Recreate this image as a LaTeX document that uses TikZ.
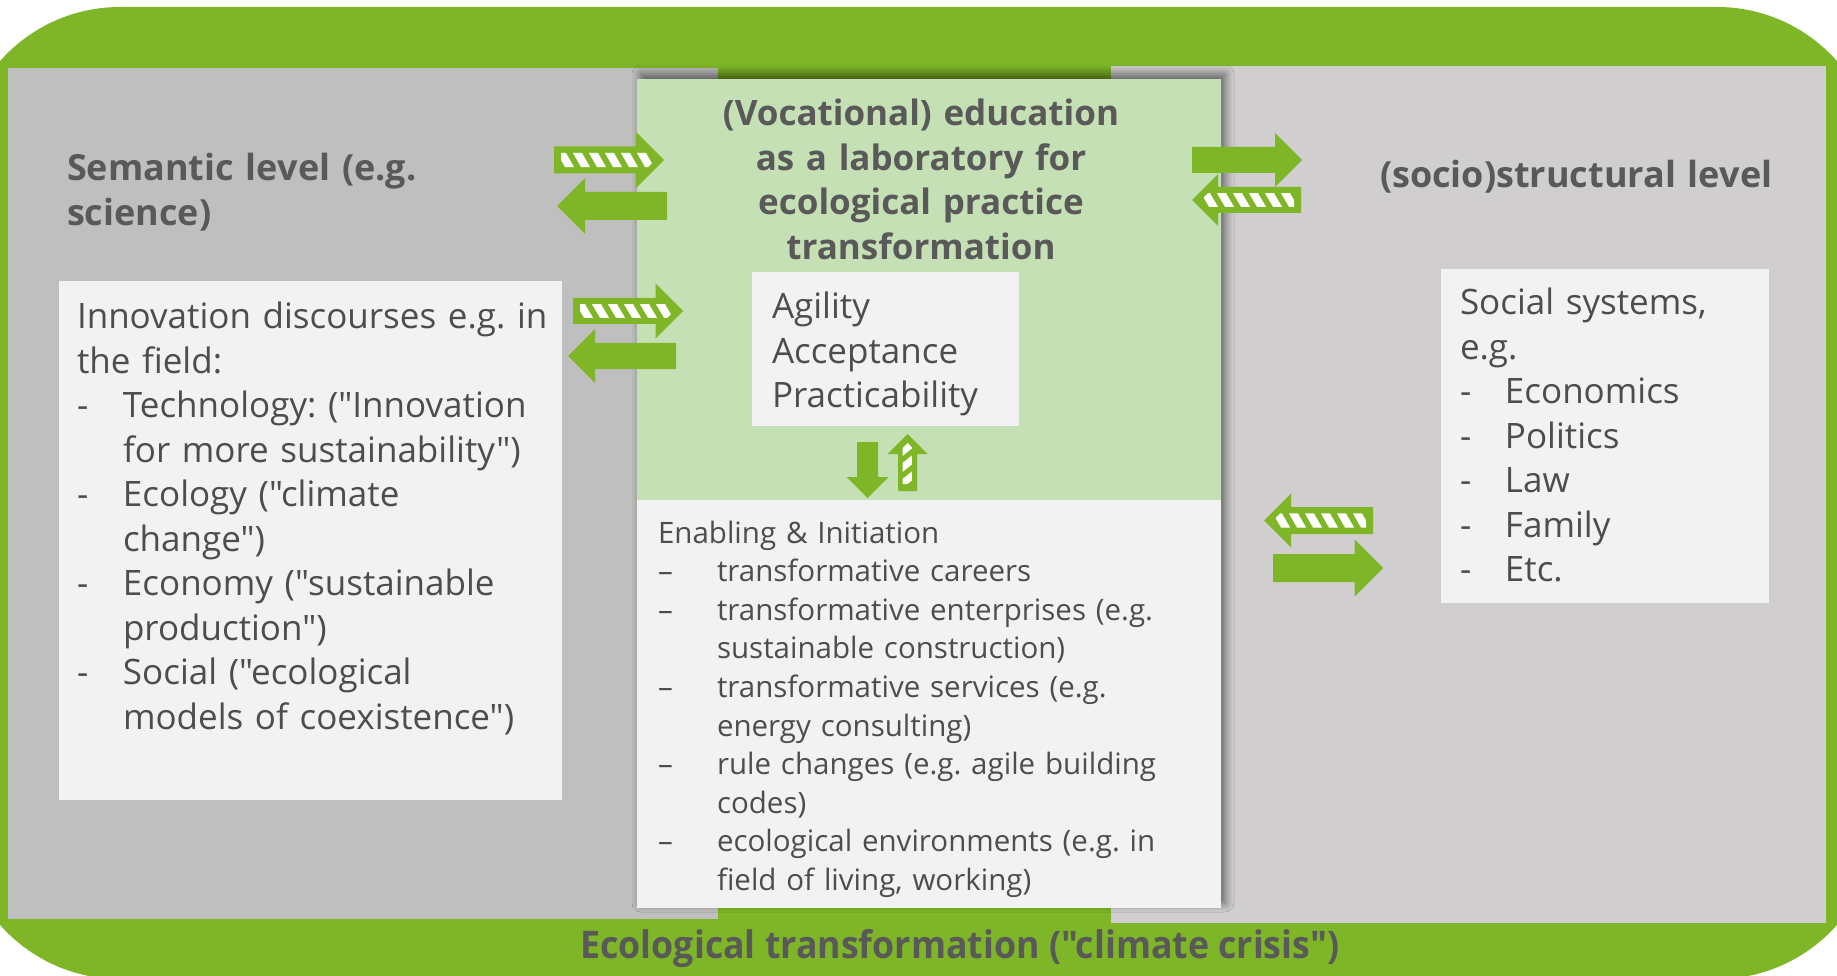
\documentclass[tikz,border=0pt]{standalone}
\usepackage{fontspec}
\usepackage{graphicx}
\defaultfontfeatures[\rmfamily]{}
\setmainfont{Open Sans}
\usetikzlibrary{shadows.blur}
\definecolor{ggreen}{HTML}{7EB627}
\definecolor{lgreen}{HTML}{C5E0B4}
\definecolor{lgray}{HTML}{BFBFBF}
\definecolor{rgray}{HTML}{D0CECE}
\definecolor{boxw}{HTML}{F2F2F2}
\definecolor{txt}{HTML}{4D4D4D}
\definecolor{ttl}{HTML}{595959}
\frenchspacing
\newcommand{\fbody}{\fontsize{35}{44.5}\selectfont}
\newcommand{\fsmall}{\fontsize{29.5}{38.6}\selectfont}
\newcommand{\ftitle}{\fontsize{35}{44.5}\selectfont\bfseries}
\newcommand{\fsidetitle}{\fontsize{36}{44.5}\selectfont\bfseries}
\newcommand{\solidarrow}[5]{%
\begin{scope}[shift={#1},rotate=#2]
\fill[ggreen] (0,-#3) -- ({#5-#4},-#3) -- ({#5-#4},-#4) -- (#5,0) -- ({#5-#4},#4) -- ({#5-#4},#3) -- (0,#3) -- cycle;
\end{scope}}
\newcommand{\stripedarrow}[5]{%
\begin{scope}[shift={#1},rotate=#2]
\fill[ggreen] (0,-#3) -- ({#5-#4},-#3) -- ({#5-#4},-#4) -- (#5,0) -- ({#5-#4},#4) -- ({#5-#4},#3) -- (0,#3) -- cycle;
\pgfmathsetmacro{\ww}{0.52*#3}
\begin{scope}
\clip (7,-\ww) -- ({#5-9-\ww},-\ww) -- ({#5-9},0) -- ({#5-9-\ww},\ww) -- (7,\ww) -- cycle;
\foreach \k in {0,...,9} \fill[white] ({3+16*\k},-\ww) -- ++(9,0) -- ++(8,{2*\ww}) -- ++(-9,0) -- cycle;
\end{scope}
\end{scope}}
\tikzset{
  panelbox/.style={fill=boxw, draw=none, inner sep=0pt, outer sep=0pt, anchor=north west},
  bodytxt/.style={anchor=base west, inner sep=0pt, outer sep=0pt, align=left, text=txt, font=\fbody},
  smalltxt/.style={anchor=base west, inner sep=0pt, outer sep=0pt, align=left, text=txt, font=\fsmall},
  titletxt/.style={inner sep=0pt, outer sep=0pt, text=ttl, font=\ftitle},
  sidetitle/.style={inner sep=0pt, outer sep=0pt, text=ttl, font=\fsidetitle, anchor=base west, align=left},
}
\begin{document}
\begin{tikzpicture}[x=1pt,y=-1pt]
\useasboundingbox (0,0) rectangle (1837,976);
\clip (0,0) rectangle (1837,976);
% outer green frame
\fill[ggreen] (-40,167) .. controls (-40,78.6) and (31.6,7) .. (120,7) -- (1717,7)
  .. controls (1805.4,7) and (1877,78.6) .. (1877,167) -- (1877,819)
  .. controls (1877,907.4) and (1805.4,979) .. (1717,979) -- (120,979)
  .. controls (31.6,979) and (-40,907.4) .. (-40,819) -- cycle;
% side panels
\fill[lgray] (8,68) rectangle (718,919);
\fill[rgray] (1111,66) rectangle (1826,923);
% central column
\path[fill=boxw, blur shadow={shadow xshift=4pt, shadow yshift=5pt, shadow blur radius=9pt, shadow opacity=55}] (637,79) rectangle (1221,908);
\fill[lgreen] (637,79) rectangle (1221,500);
% boxes
\node[panelbox, minimum width=503, minimum height=519] (leftbox) at (59,281) {};
\node[panelbox, minimum width=328, minimum height=334] (rightbox) at (1441,269) {};
\node[panelbox, minimum width=267, minimum height=154] (agilebox) at (752,272) {};
% arrows
\stripedarrow{(554,160)}{0}{13.5}{28}{110}
\solidarrow{(667,206)}{180}{14}{28}{110}
\stripedarrow{(573,311)}{0}{13}{27.5}{110}
\solidarrow{(676,356)}{180}{13}{27}{108}
\solidarrow{(1192,160)}{0}{13}{27}{110}
\stripedarrow{(1301,200)}{180}{13}{26}{109}
\stripedarrow{(1373,520.5)}{180}{13.5}{27}{109}
\solidarrow{(1273,568)}{0}{14}{28.5}{110}
\solidarrow{(867.5,442)}{-90}{10.5}{21}{56}
\stripedarrow{(907.5,491)}{90}{9.5}{20}{57}
% titles
\node[sidetitle, text width=430] (semtitle) at (67,181) {Semantic level (e.g.\\science)};
\node[titletxt, anchor=base, align=center, text width=560] (voctitle) at (921,126) {(Vocational) education\\as a laboratory for\\ecological practice\\transformation};
\node[sidetitle, text width=440] (soctitle) at (1380,188) {(socio)structural level};
% box texts
\node[bodytxt, text width=500] (lefttxt) at (77,329) {Innovation discourses e.g. in\\the field:\\\makebox[46pt][l]{-}Technology: ("Innovation\\\hspace*{46pt}for more sustainability")\\\makebox[46pt][l]{-}Ecology ("climate\\\hspace*{46pt}change")\\\makebox[46pt][l]{-}Economy ("sustainable\\\hspace*{46pt}production")\\\makebox[46pt][l]{-}Social ("ecological\\\hspace*{46pt}models of coexistence")};
\node[bodytxt, text width=250] (agiletxt) at (772,319) {Agility\\Acceptance\\Practicability};
\node[bodytxt, text width=320] (righttxt) at (1460,315) {Social systems,\\e.g.\\\makebox[45pt][l]{-}Economics\\\makebox[45pt][l]{-}Politics\\\makebox[45pt][l]{-}Law\\\makebox[45pt][l]{-}Family\\\makebox[45pt][l]{-}Etc.};
\node[smalltxt, text width=560] (enabtxt) at (658,543) {Enabling \& Initiation\\\makebox[59pt][l]{–}transformative careers\\\makebox[59pt][l]{–}transformative enterprises (e.g.\\\hspace*{59pt}sustainable construction)\\\makebox[59pt][l]{–}transformative services (e.g.\\\hspace*{59pt}energy consulting)\\\makebox[59pt][l]{–}rule changes (e.g. agile building\\\hspace*{59pt}codes)\\\makebox[59pt][l]{–}ecological environments (e.g. in\\\hspace*{59pt}field of living, working)};
% bottom label
\node[inner sep=0pt, anchor=base, text=ttl, font=\fontsize{38}{44}\selectfont\bfseries] (crisis) at (960,958) {\scalebox{0.94}[1]{Ecological transformation ("climate crisis")}};
\end{tikzpicture}
\end{document}
